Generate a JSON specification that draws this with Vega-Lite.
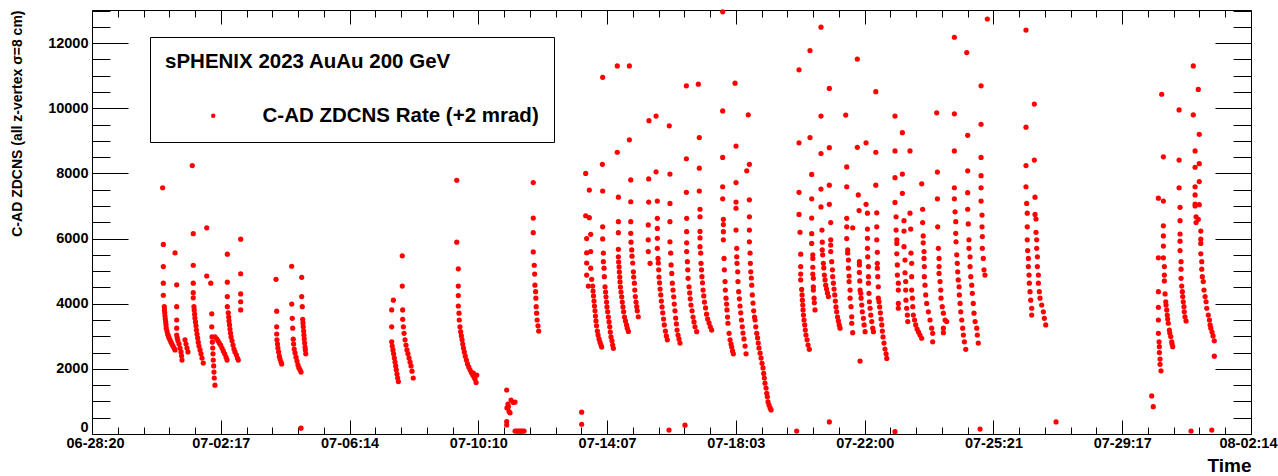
{
"$schema":"https://vega.github.io/schema/vega-lite/v6.json",
"width":1159,"height":424,
"autosize":{"type":"none"},
"padding":{"left":92,"top":10,"right":27,"bottom":42},
"background":"white",
"config":{"view":{"stroke":null},"axis":{"labelFont":"Liberation Sans","titleFont":"Liberation Sans","labelFontWeight":"bold","titleFontWeight":"bold","labelColor":"black","titleColor":"black","domainColor":"black","domainWidth":1,"tickColor":"black","tickWidth":1,"grid":false}},
"datasets":{"zdc":[
{"hours":71.7,"rate":7560},{"hours":72.2,"rate":5820},{"hours":72.2,"rate":5140},{"hours":72.2,"rate":4630},{"hours":72.2,"rate":4260},{"hours":72.9,"rate":3910},{"hours":73.0,"rate":3810},{"hours":73.2,"rate":3720},{"hours":73.4,"rate":3620},{"hours":73.6,"rate":3530},{"hours":73.9,"rate":3440},{"hours":74.1,"rate":3350},{"hours":74.3,"rate":3250},{"hours":74.8,"rate":3160},{"hours":75.3,"rate":3070},{"hours":75.8,"rate":3010},{"hours":76.3,"rate":2950},{"hours":77.0,"rate":2890},{"hours":77.7,"rate":2820},{"hours":78.4,"rate":2760},{"hours":79.1,"rate":2700},{"hours":79.9,"rate":2640},{"hours":80.6,"rate":2580},
{"hours":80.6,"rate":5560},{"hours":81.8,"rate":4580},{"hours":81.8,"rate":3910},{"hours":81.8,"rate":3500},{"hours":81.8,"rate":3250},{"hours":81.8,"rate":3040},{"hours":82.2,"rate":2950},{"hours":82.7,"rate":2860},{"hours":83.5,"rate":2760},{"hours":84.2,"rate":2640},{"hours":84.9,"rate":2520},{"hours":85.3,"rate":2400},{"hours":85.6,"rate":2270},{"hours":87.8,"rate":2890},{"hours":88.5,"rate":2760},{"hours":89.2,"rate":2640},{"hours":89.9,"rate":2520},
{"hours":93.0,"rate":8240},{"hours":93.7,"rate":6150},{"hours":93.7,"rate":5180},{"hours":93.7,"rate":4630},{"hours":93.7,"rate":4340},{"hours":93.7,"rate":4180},{"hours":94.2,"rate":3910},{"hours":94.4,"rate":3810},{"hours":94.7,"rate":3680},{"hours":94.9,"rate":3560},{"hours":95.3,"rate":3440},{"hours":95.7,"rate":3320},{"hours":96.0,"rate":3190},{"hours":96.4,"rate":3070},{"hours":96.9,"rate":2950},{"hours":97.3,"rate":2820},{"hours":97.8,"rate":2700},{"hours":98.6,"rate":2580},{"hours":99.3,"rate":2460},{"hours":100.0,"rate":2330},{"hours":100.9,"rate":2180},
{"hours":103.4,"rate":6330},{"hours":103.4,"rate":4850},{"hours":106.3,"rate":4630},{"hours":107.0,"rate":3690},{"hours":107.0,"rate":3290},{"hours":107.2,"rate":2980},{"hours":107.4,"rate":2820},{"hours":107.7,"rate":2640},{"hours":107.9,"rate":2460},{"hours":108.1,"rate":2270},{"hours":108.4,"rate":2090},{"hours":108.6,"rate":1900},{"hours":108.8,"rate":1720},{"hours":109.3,"rate":1500},{"hours":109.3,"rate":2980},{"hours":110.6,"rate":2920},{"hours":111.5,"rate":2860},{"hours":112.4,"rate":2790},{"hours":113.4,"rate":2730},{"hours":114.4,"rate":2640},{"hours":115.3,"rate":2550},{"hours":116.3,"rate":2460},{"hours":117.3,"rate":2360},{"hours":118.0,"rate":2270},
{"hours":118.2,"rate":5520},{"hours":118.2,"rate":4660},{"hours":118.2,"rate":4220},{"hours":118.2,"rate":3910},{"hours":118.9,"rate":3720},{"hours":119.2,"rate":3590},{"hours":119.4,"rate":3470},{"hours":119.8,"rate":3350},{"hours":120.1,"rate":3220},{"hours":120.5,"rate":3100},{"hours":120.9,"rate":2980},{"hours":121.6,"rate":2860},{"hours":122.3,"rate":2730},{"hours":123.0,"rate":2610},{"hours":123.7,"rate":2520},{"hours":124.7,"rate":2430},{"hours":125.5,"rate":2330},{"hours":126.1,"rate":2270},
{"hours":127.8,"rate":5980},{"hours":127.8,"rate":4920},{"hours":127.8,"rate":4300},{"hours":127.8,"rate":4060},{"hours":127.8,"rate":3810},
{"hours":153.2,"rate":4750},{"hours":153.7,"rate":3770},{"hours":153.7,"rate":3290},{"hours":153.7,"rate":3070},{"hours":153.9,"rate":2890},{"hours":154.3,"rate":2760},{"hours":154.6,"rate":2640},{"hours":155.1,"rate":2520},{"hours":155.6,"rate":2390},{"hours":156.1,"rate":2300},{"hours":156.8,"rate":2210},{"hours":157.3,"rate":2150},
{"hours":164.5,"rate":5150},{"hours":164.5,"rate":3990},{"hours":164.9,"rate":3550},{"hours":165.2,"rate":3250},{"hours":165.6,"rate":2910},{"hours":165.9,"rate":2760},{"hours":166.3,"rate":2610},{"hours":166.9,"rate":2490},{"hours":167.6,"rate":2360},{"hours":168.3,"rate":2240},{"hours":169.0,"rate":2120},{"hours":169.7,"rate":2030},{"hours":170.5,"rate":1970},{"hours":171.2,"rate":1900},
{"hours":171.7,"rate":4810},{"hours":171.7,"rate":4220},{"hours":172.1,"rate":3910},{"hours":172.4,"rate":3520},{"hours":172.6,"rate":3410},{"hours":172.8,"rate":3290},{"hours":173.1,"rate":3160},{"hours":173.3,"rate":3040},{"hours":173.5,"rate":2920},{"hours":173.8,"rate":2790},{"hours":174.1,"rate":2670},{"hours":174.3,"rate":2580},{"hours":174.6,"rate":2460},
{"hours":171.2,"rate":180},
{"hours":237.6,"rate":4110},{"hours":236.4,"rate":3810},{"hours":236.4,"rate":3290},{"hours":236.4,"rate":2830},{"hours":236.8,"rate":2700},{"hours":237.3,"rate":2580},{"hours":237.8,"rate":2460},{"hours":238.3,"rate":2330},{"hours":238.8,"rate":2210},{"hours":239.3,"rate":2090},{"hours":239.7,"rate":1970},{"hours":240.2,"rate":1840},{"hours":240.7,"rate":1720},{"hours":241.2,"rate":1610},
{"hours":244.0,"rate":5470},{"hours":244.0,"rate":4540},{"hours":244.3,"rate":3810},{"hours":244.3,"rate":3520},{"hours":244.8,"rate":3290},{"hours":245.3,"rate":3090},{"hours":246.0,"rate":2890},{"hours":246.7,"rate":2730},{"hours":247.4,"rate":2580},{"hours":248.1,"rate":2460},{"hours":248.9,"rate":2330},{"hours":249.6,"rate":2210},{"hours":250.3,"rate":2090},{"hours":251.0,"rate":1930},{"hours":251.9,"rate":1720},
{"hours":283.2,"rate":7790},{"hours":283.2,"rate":5890},{"hours":284.3,"rate":5070},{"hours":284.3,"rate":4540},{"hours":284.3,"rate":4250},{"hours":284.3,"rate":3930},{"hours":284.8,"rate":3710},{"hours":285.0,"rate":3500},{"hours":285.5,"rate":3290},{"hours":286.0,"rate":3140},{"hours":286.5,"rate":3010},{"hours":287.0,"rate":2890},{"hours":287.5,"rate":2760},{"hours":288.0,"rate":2640},{"hours":288.6,"rate":2520},{"hours":289.3,"rate":2390},{"hours":290.1,"rate":2270},{"hours":290.9,"rate":2150},{"hours":291.8,"rate":2060},{"hours":292.7,"rate":1970},{"hours":293.7,"rate":1890},{"hours":294.7,"rate":1810},{"hours":295.6,"rate":1750},{"hours":296.3,"rate":1690},{"hours":297.1,"rate":1580},{"hours":295.1,"rate":1870},{"hours":297.6,"rate":1810},
{"hours":319.1,"rate":1350},{"hours":323.9,"rate":970},{"hours":320.3,"rate":840},{"hours":320.8,"rate":690},{"hours":321.5,"rate":650},{"hours":319.1,"rate":380},{"hours":319.1,"rate":280},{"hours":322.2,"rate":1040},{"hours":325.1,"rate":980},{"hours":319.3,"rate":800},{"hours":320.0,"rate":920},{"hours":325.1,"rate":90},{"hours":326.2,"rate":90},{"hours":327.3,"rate":90},{"hours":328.3,"rate":90},{"hours":329.4,"rate":90},{"hours":330.5,"rate":90},{"hours":331.6,"rate":90},
{"hours":338.2,"rate":7720},{"hours":338.2,"rate":6630},{"hours":338.2,"rate":6180},{"hours":338.2,"rate":5590},{"hours":338.9,"rate":5180},{"hours":339.2,"rate":4910},{"hours":339.4,"rate":4570},{"hours":339.9,"rate":4370},{"hours":340.1,"rate":4170},{"hours":340.3,"rate":3910},{"hours":340.6,"rate":3710},{"hours":341.0,"rate":3500},{"hours":341.6,"rate":3320},{"hours":342.1,"rate":3160},
{"hours":373.0,"rate":670},{"hours":373.0,"rate":300},
{"hours":375.9,"rate":8000},{"hours":378.5,"rate":7490},{"hours":375.9,"rate":6700},{"hours":378.5,"rate":6640},{"hours":376.6,"rate":6000},{"hours":379.5,"rate":6130},{"hours":376.6,"rate":5560},{"hours":379.5,"rate":5600},{"hours":376.6,"rate":5250},{"hours":379.5,"rate":5090},{"hours":376.6,"rate":4880},{"hours":380.2,"rate":4750},{"hours":377.8,"rate":4540},{"hours":380.9,"rate":4540},{"hours":381.2,"rate":4390},{"hours":381.5,"rate":4240},{"hours":381.9,"rate":4080},{"hours":382.2,"rate":3930},{"hours":382.6,"rate":3780},{"hours":382.9,"rate":3620},{"hours":383.3,"rate":3470},{"hours":383.7,"rate":3320},{"hours":384.3,"rate":3160},{"hours":384.8,"rate":3040},{"hours":385.5,"rate":2920},{"hours":386.2,"rate":2820},{"hours":386.9,"rate":2730},{"hours":387.4,"rate":2670},
{"hours":387.9,"rate":8280},{"hours":388.1,"rate":7460},{"hours":388.1,"rate":6360},{"hours":388.1,"rate":5990},{"hours":388.6,"rate":5550},{"hours":388.6,"rate":5290},{"hours":389.1,"rate":5090},{"hours":389.3,"rate":4830},{"hours":389.8,"rate":4520},{"hours":390.2,"rate":4360},{"hours":390.5,"rate":4210},{"hours":390.9,"rate":4050},{"hours":391.2,"rate":3900},{"hours":391.7,"rate":3750},{"hours":392.2,"rate":3590},{"hours":392.7,"rate":3440},{"hours":393.2,"rate":3290},{"hours":393.6,"rate":3130},{"hours":394.1,"rate":2980},{"hours":394.8,"rate":2860},{"hours":395.3,"rate":2730},{"hours":395.8,"rate":2630},{"hours":388.1,"rate":10950},
{"hours":398.6,"rate":11300},{"hours":398.6,"rate":8650},{"hours":399.4,"rate":7270},{"hours":399.4,"rate":6520},{"hours":399.4,"rate":6180},{"hours":399.4,"rate":5670},{"hours":399.4,"rate":5440},{"hours":399.6,"rate":5280},{"hours":399.9,"rate":5130},{"hours":400.1,"rate":4970},{"hours":400.4,"rate":4820},{"hours":400.6,"rate":4670},{"hours":400.9,"rate":4510},{"hours":401.3,"rate":4360},{"hours":401.8,"rate":4210},{"hours":402.2,"rate":4050},{"hours":402.7,"rate":3900},{"hours":403.2,"rate":3750},{"hours":403.8,"rate":3590},{"hours":404.5,"rate":3470},{"hours":405.3,"rate":3350},{"hours":405.8,"rate":3250},{"hours":406.6,"rate":3150},
{"hours":407.3,"rate":11300},{"hours":407.3,"rate":9030},{"hours":408.3,"rate":7800},{"hours":408.3,"rate":7130},{"hours":408.3,"rate":6520},{"hours":408.3,"rate":6160},{"hours":408.5,"rate":5890},{"hours":409.0,"rate":5650},{"hours":409.2,"rate":5460},{"hours":409.7,"rate":5250},{"hours":410.2,"rate":4980},{"hours":410.4,"rate":4820},{"hours":410.9,"rate":4630},{"hours":411.2,"rate":4420},{"hours":411.6,"rate":4220},{"hours":412.1,"rate":4050},{"hours":412.6,"rate":3910},{"hours":413.0,"rate":3780},{"hours":413.7,"rate":3600},
{"hours":421.4,"rate":9620},{"hours":421.2,"rate":7830},{"hours":421.2,"rate":7120},{"hours":420.9,"rate":6420},{"hours":420.9,"rate":5960},{"hours":420.9,"rate":5600},{"hours":422.2,"rate":5240},
{"hours":426.5,"rate":9760},{"hours":426.5,"rate":8050},{"hours":427.4,"rate":7150},{"hours":427.4,"rate":6620},{"hours":427.4,"rate":6310},{"hours":427.4,"rate":6010},{"hours":427.4,"rate":5700},{"hours":427.9,"rate":5390},{"hours":428.1,"rate":5250},{"hours":428.4,"rate":5040},{"hours":428.6,"rate":4820},{"hours":429.0,"rate":4640},{"hours":429.4,"rate":4450},{"hours":429.9,"rate":4270},{"hours":430.3,"rate":4080},{"hours":430.8,"rate":3900},{"hours":431.3,"rate":3720},{"hours":431.9,"rate":3530},{"hours":432.4,"rate":3350},{"hours":433.2,"rate":3160},{"hours":433.9,"rate":3010},{"hours":434.6,"rate":2890},
{"hours":436.0,"rate":9460},{"hours":436.5,"rate":7980},{"hours":436.5,"rate":7080},{"hours":436.5,"rate":6520},{"hours":436.5,"rate":5900},{"hours":437.0,"rate":5550},{"hours":437.3,"rate":5190},{"hours":437.8,"rate":4930},{"hours":438.2,"rate":4630},{"hours":438.7,"rate":4420},{"hours":439.2,"rate":4210},{"hours":439.6,"rate":3990},{"hours":440.1,"rate":3780},{"hours":440.6,"rate":3560},{"hours":441.1,"rate":3380},{"hours":441.6,"rate":3190},{"hours":442.3,"rate":3040},{"hours":443.0,"rate":2920},{"hours":443.7,"rate":2790},
{"hours":435.8,"rate":120},{"hours":447.3,"rate":270},
{"hours":448.3,"rate":10690},{"hours":448.3,"rate":8450},{"hours":448.3,"rate":7420},{"hours":448.5,"rate":6620},{"hours":448.5,"rate":6210},{"hours":448.5,"rate":5870},{"hours":448.5,"rate":5600},{"hours":449.0,"rate":5290},{"hours":449.3,"rate":5040},{"hours":449.5,"rate":4780},{"hours":450.2,"rate":4520},{"hours":450.7,"rate":4330},{"hours":451.1,"rate":4150},{"hours":451.6,"rate":3960},{"hours":452.4,"rate":3780},{"hours":453.1,"rate":3590},{"hours":453.8,"rate":3440},{"hours":454.5,"rate":3290},{"hours":455.7,"rate":3140},
{"hours":456.9,"rate":10740},{"hours":457.6,"rate":9100},{"hours":457.6,"rate":8160},{"hours":457.6,"rate":7460},{"hours":458.1,"rate":6900},{"hours":458.1,"rate":6670},{"hours":458.1,"rate":6220},{"hours":458.1,"rate":6020},{"hours":458.1,"rate":5750},{"hours":458.6,"rate":5550},{"hours":458.8,"rate":5240},{"hours":459.2,"rate":5040},{"hours":459.5,"rate":4830},{"hours":459.9,"rate":4640},{"hours":460.3,"rate":4420},{"hours":460.8,"rate":4240},{"hours":461.3,"rate":4050},{"hours":462.1,"rate":3870},{"hours":462.8,"rate":3680},{"hours":463.6,"rate":3530},{"hours":464.6,"rate":3410},{"hours":465.5,"rate":3290},{"hours":466.5,"rate":3190},
{"hours":474.4,"rate":12960},{"hours":474.4,"rate":9920},{"hours":474.4,"rate":8490},{"hours":474.4,"rate":7590},{"hours":474.4,"rate":7220},{"hours":474.9,"rate":6590},{"hours":474.9,"rate":6430},{"hours":474.9,"rate":6210},{"hours":474.9,"rate":5960},{"hours":475.4,"rate":5390},{"hours":475.6,"rate":5040},{"hours":476.1,"rate":4680},{"hours":476.3,"rate":4420},{"hours":476.8,"rate":4170},{"hours":477.2,"rate":3990},{"hours":477.5,"rate":3810},{"hours":477.9,"rate":3590},{"hours":478.2,"rate":3400},{"hours":479.0,"rate":3090},{"hours":479.7,"rate":2890},{"hours":480.4,"rate":2760},{"hours":480.9,"rate":2670},{"hours":481.5,"rate":2550},{"hours":482.1,"rate":2460},
{"hours":483.3,"rate":10770},{"hours":484.0,"rate":8840},{"hours":484.0,"rate":7720},{"hours":484.0,"rate":7120},{"hours":484.0,"rate":6930},{"hours":484.0,"rate":6260},{"hours":484.5,"rate":5700},{"hours":484.5,"rate":5440},{"hours":484.7,"rate":5240},{"hours":485.2,"rate":4980},{"hours":485.4,"rate":4680},{"hours":485.9,"rate":4370},{"hours":486.4,"rate":4150},{"hours":486.9,"rate":3930},{"hours":487.4,"rate":3720},{"hours":487.9,"rate":3500},{"hours":488.5,"rate":3290},{"hours":489.0,"rate":3100},{"hours":489.7,"rate":2920},{"hours":490.5,"rate":2700},{"hours":491.2,"rate":2460},
{"hours":492.8,"rate":9800},{"hours":493.6,"rate":8280},{"hours":491.7,"rate":8080},{"hours":493.6,"rate":7190},{"hours":493.6,"rate":6670},{"hours":493.6,"rate":6260},{"hours":493.6,"rate":5900},{"hours":494.1,"rate":5550},{"hours":494.3,"rate":5240},{"hours":494.6,"rate":4980},{"hours":495.0,"rate":4790},{"hours":495.3,"rate":4570},{"hours":495.7,"rate":4270},{"hours":496.2,"rate":4020},{"hours":496.7,"rate":3780},{"hours":497.3,"rate":3590},{"hours":497.7,"rate":3500},{"hours":498.2,"rate":3290},{"hours":498.9,"rate":3090},{"hours":499.5,"rate":2950},{"hours":500.0,"rate":2790},{"hours":500.5,"rate":2640},{"hours":501.3,"rate":2480},{"hours":502.0,"rate":2330},{"hours":502.7,"rate":2170},{"hours":503.4,"rate":2030},{"hours":503.9,"rate":1860},{"hours":504.3,"rate":1720},{"hours":504.8,"rate":1560},{"hours":505.6,"rate":1410},{"hours":506.1,"rate":1250},{"hours":506.5,"rate":1140},{"hours":507.0,"rate":990},{"hours":507.7,"rate":890},{"hours":508.5,"rate":800},{"hours":509.2,"rate":740},
{"hours":527.6,"rate":90},
{"hours":529.3,"rate":11180},{"hours":529.3,"rate":8940},{"hours":529.3,"rate":7420},{"hours":529.3,"rate":6740},{"hours":530.0,"rate":6190},{"hours":530.5,"rate":5520},{"hours":530.5,"rate":5140},{"hours":530.5,"rate":4910},{"hours":530.5,"rate":4730},{"hours":531.2,"rate":4440},{"hours":531.5,"rate":4270},{"hours":531.7,"rate":4110},{"hours":532.0,"rate":3960},{"hours":532.2,"rate":3810},{"hours":532.5,"rate":3650},{"hours":532.9,"rate":3500},{"hours":533.4,"rate":3350},{"hours":533.8,"rate":3190},{"hours":534.3,"rate":3040},{"hours":535.1,"rate":2890},{"hours":535.8,"rate":2730},{"hours":536.7,"rate":2600},
{"hours":537.2,"rate":11770},{"hours":537.2,"rate":9100},{"hours":538.4,"rate":7970},{"hours":538.4,"rate":7220},{"hours":538.4,"rate":6630},{"hours":538.4,"rate":6150},{"hours":538.4,"rate":5850},{"hours":539.2,"rate":5500},{"hours":539.2,"rate":5390},{"hours":539.2,"rate":5120},{"hours":539.2,"rate":4910},{"hours":539.6,"rate":4780},{"hours":539.6,"rate":4520},{"hours":539.6,"rate":4420},{"hours":540.1,"rate":4170},{"hours":540.3,"rate":4030},{"hours":540.8,"rate":3810},
{"hours":545.1,"rate":12490},{"hours":545.1,"rate":9760},{"hours":545.1,"rate":8610},{"hours":545.1,"rate":7520},{"hours":545.1,"rate":6970},{"hours":545.8,"rate":6260},{"hours":546.0,"rate":5890},{"hours":546.0,"rate":5650},{"hours":546.3,"rate":5500},{"hours":546.8,"rate":5240},{"hours":547.1,"rate":5100},{"hours":547.5,"rate":4880},{"hours":548.0,"rate":4730},{"hours":548.5,"rate":4570},{"hours":549.1,"rate":4450},{"hours":549.7,"rate":4330},{"hours":550.4,"rate":4220},
{"hours":551.1,"rate":10610},{"hours":551.1,"rate":8790},{"hours":551.1,"rate":7640},{"hours":551.1,"rate":7050},{"hours":552.1,"rate":6490},{"hours":552.1,"rate":5960},{"hours":552.1,"rate":5800},{"hours":552.1,"rate":5600},{"hours":552.8,"rate":5290},{"hours":553.3,"rate":5040},{"hours":553.5,"rate":4830},{"hours":554.0,"rate":4630},{"hours":554.5,"rate":4450},{"hours":555.0,"rate":4270},{"hours":555.4,"rate":4080},{"hours":555.9,"rate":3900},{"hours":556.4,"rate":3750},{"hours":557.0,"rate":3590},{"hours":557.6,"rate":3470},{"hours":558.2,"rate":3350},{"hours":558.8,"rate":3250},{"hours":551.1,"rate":370},
{"hours":562.9,"rate":9790},{"hours":563.6,"rate":8200},{"hours":563.6,"rate":7590},{"hours":563.6,"rate":6620},{"hours":563.6,"rate":6360},{"hours":563.6,"rate":6000},{"hours":564.3,"rate":5650},{"hours":564.3,"rate":5550},{"hours":564.8,"rate":5340},{"hours":564.8,"rate":5090},{"hours":565.3,"rate":4850},{"hours":565.3,"rate":4680},{"hours":566.0,"rate":4420},{"hours":566.0,"rate":4170},{"hours":566.7,"rate":3910},{"hours":567.2,"rate":3600},{"hours":567.2,"rate":3400},{"hours":567.9,"rate":3110},{"hours":567.9,"rate":6330},
{"hours":571.2,"rate":11510},{"hours":571.2,"rate":8800},{"hours":571.9,"rate":7340},{"hours":572.5,"rate":6860},{"hours":572.7,"rate":5290},{"hours":572.7,"rate":5190},{"hours":572.7,"rate":4960},{"hours":573.0,"rate":4700},{"hours":573.2,"rate":4420},{"hours":573.7,"rate":4320},{"hours":573.9,"rate":4170},{"hours":574.4,"rate":3960},{"hours":574.8,"rate":3750},{"hours":575.6,"rate":3550},{"hours":576.1,"rate":3350},{"hours":576.8,"rate":3140},{"hours":573.2,"rate":2240},
{"hours":577.5,"rate":8940},{"hours":577.5,"rate":7050},{"hours":578.5,"rate":6780},{"hours":578.5,"rate":6290},{"hours":578.5,"rate":6010},{"hours":578.5,"rate":5700},{"hours":578.7,"rate":5440},{"hours":579.2,"rate":5140},{"hours":579.2,"rate":4830},{"hours":579.2,"rate":4630},{"hours":579.6,"rate":4320},{"hours":579.9,"rate":4060},{"hours":580.4,"rate":3860},{"hours":580.9,"rate":3650},{"hours":581.6,"rate":3450},{"hours":582.3,"rate":3250},{"hours":582.8,"rate":3140},
{"hours":584.5,"rate":10510},{"hours":584.5,"rate":8650},{"hours":584.5,"rate":7640},{"hours":585.2,"rate":6790},{"hours":585.2,"rate":6360},{"hours":585.2,"rate":5960},{"hours":585.6,"rate":5580},{"hours":585.6,"rate":5240},{"hours":585.6,"rate":5090},{"hours":585.9,"rate":4830},{"hours":586.3,"rate":4520},{"hours":586.3,"rate":4170},{"hours":586.8,"rate":4060},{"hours":587.3,"rate":3900},{"hours":587.8,"rate":3720},{"hours":588.3,"rate":3530},{"hours":588.8,"rate":3350},{"hours":589.2,"rate":3160},{"hours":589.7,"rate":2980},{"hours":590.4,"rate":2790},{"hours":591.1,"rate":2610},{"hours":591.9,"rate":2460},{"hours":592.4,"rate":2320},
{"hours":598.3,"rate":70},
{"hours":598.3,"rate":9760},{"hours":598.3,"rate":8690},{"hours":598.3,"rate":7870},{"hours":598.3,"rate":7110},{"hours":599.1,"rate":6670},{"hours":599.1,"rate":6260},{"hours":599.6,"rate":5960},{"hours":599.6,"rate":5850},{"hours":599.6,"rate":5530},{"hours":600.0,"rate":5190},{"hours":600.0,"rate":4880},{"hours":600.7,"rate":4630},{"hours":600.7,"rate":4420},{"hours":600.7,"rate":4010},{"hours":600.7,"rate":3860},
{"hours":603.6,"rate":9250},{"hours":603.6,"rate":7980},{"hours":603.6,"rate":7390},{"hours":604.8,"rate":6550},{"hours":604.8,"rate":6230},{"hours":604.8,"rate":5750},{"hours":605.5,"rate":5340},{"hours":605.5,"rate":4950},{"hours":606.0,"rate":4680},{"hours":606.0,"rate":4420},{"hours":606.2,"rate":4110},{"hours":606.7,"rate":3860},{"hours":607.2,"rate":3650},{"hours":607.5,"rate":3450},
{"hours":609.1,"rate":8690},{"hours":609.1,"rate":6780},{"hours":609.6,"rate":6290},{"hours":609.8,"rate":5550},{"hours":610.3,"rate":5240},{"hours":610.3,"rate":4830},{"hours":610.3,"rate":4420},{"hours":610.8,"rate":4170},{"hours":611.1,"rate":3910},{"hours":611.5,"rate":3650},{"hours":612.4,"rate":3500},{"hours":613.2,"rate":3350},{"hours":614.2,"rate":3220},{"hours":615.2,"rate":3130},{"hours":616.3,"rate":3040},{"hours":617.5,"rate":2940},
{"hours":617.5,"rate":7680},{"hours":618.2,"rate":6900},{"hours":618.2,"rate":6490},{"hours":618.6,"rate":6080},{"hours":618.6,"rate":5870},{"hours":619.2,"rate":5600},{"hours":619.2,"rate":5390},{"hours":619.4,"rate":5140},{"hours":619.4,"rate":4830},{"hours":619.9,"rate":4570},{"hours":620.4,"rate":4270},{"hours":621.1,"rate":4010},{"hours":622.3,"rate":3750},{"hours":623.5,"rate":3500},{"hours":624.7,"rate":3250},{"hours":625.4,"rate":3090},{"hours":625.4,"rate":2830},
{"hours":628.3,"rate":9860},{"hours":628.8,"rate":8040},{"hours":628.8,"rate":7220},{"hours":629.0,"rate":6360},{"hours":629.5,"rate":5700},{"hours":630.0,"rate":5390},{"hours":630.0,"rate":5140},{"hours":630.0,"rate":4930},{"hours":630.7,"rate":4680},{"hours":631.2,"rate":4420},{"hours":631.4,"rate":4170},{"hours":632.3,"rate":3910},{"hours":633.1,"rate":3710},{"hours":634.3,"rate":3500},{"hours":635.5,"rate":3450},{"hours":633.1,"rate":3250},{"hours":633.1,"rate":3110},
{"hours":641.0,"rate":12180},{"hours":641.0,"rate":9830},{"hours":641.0,"rate":8690},{"hours":641.0,"rate":7560},{"hours":641.0,"rate":7220},{"hours":641.5,"rate":6820},{"hours":642.0,"rate":6520},{"hours":642.0,"rate":6160},{"hours":642.2,"rate":5900},{"hours":642.7,"rate":5500},{"hours":643.1,"rate":5240},{"hours":643.4,"rate":4980},{"hours":643.8,"rate":4730},{"hours":644.4,"rate":4520},{"hours":644.6,"rate":4270},{"hours":645.1,"rate":4010},{"hours":645.6,"rate":3750},{"hours":646.3,"rate":3500},{"hours":647.0,"rate":3250},{"hours":647.5,"rate":3040},{"hours":648.2,"rate":2830},{"hours":649.2,"rate":2600},
{"hours":649.9,"rate":11710},{"hours":650.6,"rate":9170},{"hours":650.6,"rate":8080},{"hours":650.6,"rate":7410},{"hours":650.6,"rate":6900},{"hours":651.0,"rate":6450},{"hours":651.5,"rate":5960},{"hours":651.5,"rate":5700},{"hours":652.3,"rate":5440},{"hours":652.3,"rate":5140},{"hours":652.8,"rate":4830},{"hours":653.5,"rate":4570},{"hours":653.9,"rate":4320},{"hours":654.6,"rate":4010},{"hours":655.1,"rate":3710},{"hours":655.9,"rate":3450},{"hours":657.1,"rate":3250},{"hours":657.5,"rate":3040},{"hours":658.2,"rate":2790},
{"hours":659.5,"rate":150},
{"hours":660.2,"rate":10690},{"hours":660.2,"rate":9510},{"hours":660.2,"rate":8490},{"hours":660.2,"rate":7930},{"hours":660.2,"rate":7560},{"hours":660.2,"rate":7150},{"hours":660.9,"rate":6720},{"hours":660.9,"rate":6360},{"hours":661.1,"rate":6060},{"hours":661.1,"rate":5700},{"hours":661.8,"rate":5390},{"hours":662.3,"rate":5040},{"hours":663.0,"rate":4880},{"hours":664.7,"rate":12740},
{"hours":692.5,"rate":12400},{"hours":692.5,"rate":9420},{"hours":692.5,"rate":8240},{"hours":692.5,"rate":7590},{"hours":693.0,"rate":7080},{"hours":693.4,"rate":6780},{"hours":693.4,"rate":6360},{"hours":693.4,"rate":5960},{"hours":693.7,"rate":5630},{"hours":694.2,"rate":5390},{"hours":694.2,"rate":5140},{"hours":694.7,"rate":4880},{"hours":694.9,"rate":4630},{"hours":695.4,"rate":4370},{"hours":695.9,"rate":4110},{"hours":696.6,"rate":3860},{"hours":696.6,"rate":3650},
{"hours":698.5,"rate":10130},{"hours":698.5,"rate":8410},{"hours":699.0,"rate":7270},{"hours":699.0,"rate":6740},{"hours":699.7,"rate":6600},{"hours":699.7,"rate":6190},{"hours":700.2,"rate":5960},{"hours":700.2,"rate":5700},{"hours":700.7,"rate":5440},{"hours":700.7,"rate":5140},{"hours":701.4,"rate":4880},{"hours":701.4,"rate":4630},{"hours":702.1,"rate":4370},{"hours":702.6,"rate":4170},{"hours":703.8,"rate":3960},{"hours":705.0,"rate":3750},{"hours":705.7,"rate":3550},{"hours":706.7,"rate":3350},
{"hours":714.1,"rate":370},
{"hours":782.9,"rate":1170},{"hours":784.0,"rate":840},
{"hours":787.7,"rate":7240},{"hours":787.7,"rate":5410},{"hours":787.7,"rate":4370},{"hours":787.7,"rate":3890},{"hours":787.7,"rate":3500},{"hours":787.7,"rate":3090},{"hours":788.2,"rate":2830},{"hours":788.4,"rate":2680},{"hours":788.4,"rate":2500},{"hours":788.9,"rate":2300},{"hours":788.9,"rate":2140},{"hours":789.6,"rate":1940},
{"hours":790.1,"rate":10430},{"hours":791.3,"rate":8510},{"hours":791.3,"rate":7150},{"hours":791.3,"rate":6390},{"hours":791.3,"rate":6080},{"hours":791.3,"rate":5770},{"hours":791.3,"rate":5410},{"hours":792.0,"rate":5140},{"hours":792.0,"rate":4880},{"hours":792.0,"rate":4700},{"hours":792.5,"rate":4300},{"hours":793.0,"rate":4060},{"hours":793.2,"rate":3960},{"hours":793.7,"rate":3810},{"hours":794.1,"rate":3650},{"hours":794.4,"rate":3530},{"hours":794.8,"rate":3400},{"hours":795.6,"rate":3190},{"hours":795.9,"rate":3100},{"hours":796.6,"rate":2990},{"hours":797.3,"rate":2830},{"hours":797.5,"rate":2760},{"hours":798.0,"rate":2680},
{"hours":802.6,"rate":9950},{"hours":802.6,"rate":8410},{"hours":802.6,"rate":7560},{"hours":803.3,"rate":6960},{"hours":803.3,"rate":6550},{"hours":803.3,"rate":6140},{"hours":803.3,"rate":5920},{"hours":803.3,"rate":5630},{"hours":804.0,"rate":5290},{"hours":804.0,"rate":5060},{"hours":804.0,"rate":4780},{"hours":804.5,"rate":4540},{"hours":804.9,"rate":4370},{"hours":805.2,"rate":4220},{"hours":805.6,"rate":4060},{"hours":806.1,"rate":3910},{"hours":806.3,"rate":3750},{"hours":806.8,"rate":3600},{"hours":807.6,"rate":3470},
{"hours":811.2,"rate":90},{"hours":826.1,"rate":120},
{"hours":812.8,"rate":11300},{"hours":816.4,"rate":10580},{"hours":812.8,"rate":9800},{"hours":817.1,"rate":9200},{"hours":814.1,"rate":8690},{"hours":817.1,"rate":8300},{"hours":814.1,"rate":8190},{"hours":817.1,"rate":7750},{"hours":814.1,"rate":7590},{"hours":814.1,"rate":7340},{"hours":814.1,"rate":7060},{"hours":817.1,"rate":7040},{"hours":814.1,"rate":7000},{"hours":814.8,"rate":6670},{"hours":816.4,"rate":6590},{"hours":814.8,"rate":6490},{"hours":818.2,"rate":6230},{"hours":818.2,"rate":5980},{"hours":818.2,"rate":5850},{"hours":818.2,"rate":5530},{"hours":818.9,"rate":5290},{"hours":818.9,"rate":5060},{"hours":819.3,"rate":4830},{"hours":820.0,"rate":4680},{"hours":820.5,"rate":4420},{"hours":821.3,"rate":4220},{"hours":822.0,"rate":4060},{"hours":822.5,"rate":3860},{"hours":823.6,"rate":3650},{"hours":824.4,"rate":3500},{"hours":824.9,"rate":3350},{"hours":825.4,"rate":3250},{"hours":826.3,"rate":3130},{"hours":827.0,"rate":3010},{"hours":827.9,"rate":2860},{"hours":827.9,"rate":2390}
]},
"layer":[
{"data":{"name":"zdc"},
 "mark":{"type":"point","filled":true,"size":27,"opacity":1,"strokeWidth":0},
 "encoding":{
  "x":{"field":"hours","type":"quantitative","scale":{"domain":[20.9,854.3],"nice":false,"zero":false},
   "axis":{"orient":"bottom","values":[20.9,113.5,206.1,298.7,391.3,483.9,576.5,669.1,761.7,854.3],"labelExpr":"timeFormat(datetime(2023,5,28,0,0,round(datum.value*3600)),'%m-%d:%H')","ticks":false,"domain":true,"labelFontSize":14.5,"labelPadding":2,"labelFlush":true,"labelFlushOffset":26,"labelOverlap":false,"title":"Time","titleFontSize":19,"titleAnchor":"end","titleAlign":"right","titlePadding":7}},
  "y":{"field":"rate","type":"quantitative","scale":{"domain":[0,13017],"nice":false,"zero":true},
   "axis":{"orient":"left","values":[0,2000,4000,6000,8000,10000,12000],"format":"d","ticks":false,"domain":true,"labelFontSize":14.5,"labelPadding":4,"labelFlush":true,"labelOverlap":false,"title":"C-AD ZDCNS (all z-vertex σ=8 cm)","titleFontSize":14,"titleAnchor":"end","titlePadding":23}},
  "color":{"datum":"C-AD ZDCNS Rate (+2 mrad)","type":"nominal","scale":{"range":["#ff0000"]},
   "legend":{"orient":"none","legendX":58,"legendY":27,"title":"sPHENIX 2023 AuAu 200 GeV","titleFont":"Liberation Sans","titleFontSize":20.5,"titleFontWeight":"bold","titleColor":"black","titleLimit":500,"titlePadding":33,"labelFont":"Liberation Sans","labelFontSize":20.5,"labelFontWeight":"bold","labelColor":"black","labelLimit":500,"symbolType":"circle","symbolSize":20,"symbolStrokeWidth":0,"symbolOffset":38,"labelOffset":39,"padding":15,"strokeColor":"black","fillColor":"white"}}
 }},
{"data":{"values":[]},"mark":{"type":"point","opacity":0},
 "encoding":{
  "x":{"field":"hours","type":"quantitative","axis":{"orient":"bottom","values":[20.9,113.5,206.1,298.7,391.3,483.9,576.5,669.1,761.7,854.3],"labels":false,"domain":false,"ticks":true,"tickSize":-14,"title":null}},
  "y":{"field":"rate","type":"quantitative","axis":{"orient":"left","values":[0,2000,4000,6000,8000,10000,12000],"labels":false,"domain":false,"ticks":true,"tickSize":-36,"title":null}}
 }},
{"data":{"values":[]},"mark":{"type":"point","opacity":0},
 "encoding":{
  "x":{"field":"hours","type":"quantitative","axis":{"orient":"bottom","values":[39.42,57.94,76.46,94.98,132.02,150.54,169.06,187.58,224.62,243.14,261.66,280.18,317.22,335.74,354.26,372.78,409.82,428.34,446.86,465.38,502.42,520.94,539.46,557.98,595.02,613.54,632.06,650.58,687.62,706.14,724.66,743.18,780.22,798.74,817.26,835.78],"labels":false,"domain":false,"ticks":true,"tickSize":-7,"title":null}},
  "y":{"field":"rate","type":"quantitative","axis":{"orient":"left","values":[500,1000,1500,2500,3000,3500,4500,5000,5500,6500,7000,7500,8500,9000,9500,10500,11000,11500,12500,13000],"labels":false,"domain":false,"ticks":true,"tickSize":-18,"title":null}}
 }},
{"data":{"values":[]},"mark":{"type":"point","opacity":0},
 "encoding":{
  "x":{"field":"hours","type":"quantitative","axis":{"orient":"top","values":[20.9,113.5,206.1,298.7,391.3,483.9,576.5,669.1,761.7,854.3],"labels":false,"domain":true,"ticks":true,"tickSize":-14,"title":null}},
  "y":{"field":"rate","type":"quantitative","axis":{"orient":"right","values":[0,2000,4000,6000,8000,10000,12000],"labels":false,"domain":true,"ticks":true,"tickSize":-36,"title":null}}
 }},
{"data":{"values":[]},"mark":{"type":"point","opacity":0},
 "encoding":{
  "x":{"field":"hours","type":"quantitative","axis":{"orient":"top","values":[39.42,57.94,76.46,94.98,132.02,150.54,169.06,187.58,224.62,243.14,261.66,280.18,317.22,335.74,354.26,372.78,409.82,428.34,446.86,465.38,502.42,520.94,539.46,557.98,595.02,613.54,632.06,650.58,687.62,706.14,724.66,743.18,780.22,798.74,817.26,835.78],"labels":false,"domain":false,"ticks":true,"tickSize":-7,"title":null}},
  "y":{"field":"rate","type":"quantitative","axis":{"orient":"right","values":[500,1000,1500,2500,3000,3500,4500,5000,5500,6500,7000,7500,8500,9000,9500,10500,11000,11500,12500,13000],"labels":false,"domain":false,"ticks":true,"tickSize":-18,"title":null}}
 }}
],
"resolve":{"axis":{"x":"independent","y":"independent"}}
}
